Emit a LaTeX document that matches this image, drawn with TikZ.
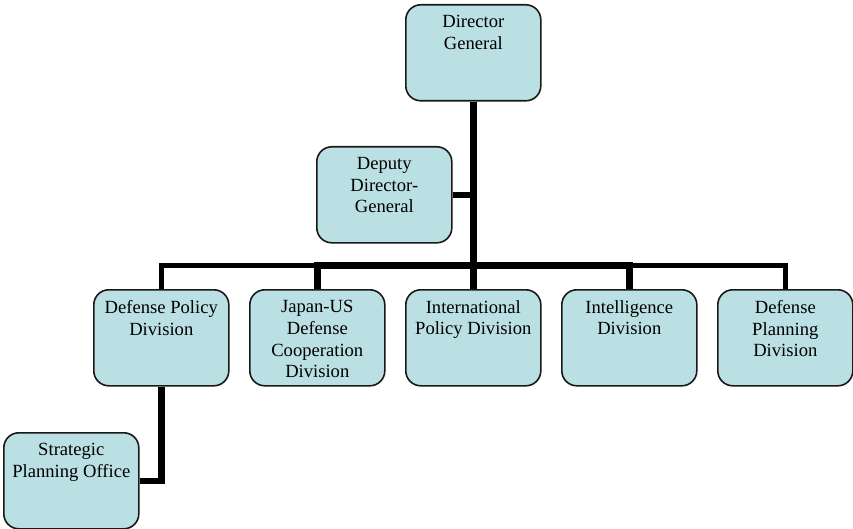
\documentclass[tikz,border=0pt]{standalone}
\usepackage{fontspec}
\setmainfont{Liberation Serif}
\definecolor{boxfill}{RGB}{187,224,227}
\definecolor{boxline}{RGB}{25,25,25}

% text block of a unit box: fixed size, lines set from the top
\newcommand{\unittext}[1]{%
  \parbox[c][96pt][t]{135pt}{\centering\fontsize{18.6}{21.7}\selectfont
    \vspace*{10.5pt}#1}}

\tikzset{
  unit/.style={draw=boxline, line width=1.6pt, fill=boxfill,
    rounded corners=15pt, inner sep=0pt, anchor=north west},
  trunk/.style={line width=6.5pt, line join=miter},
  branch/.style={line width=5pt, line join=miter},
}

\begin{document}
\begin{tikzpicture}[x=1pt, y=-1pt]
  \useasboundingbox (0,0) rectangle (853,529);

  % units
  \node[unit] (dg)  at (405,4)   {\unittext{Director\\General}};
  \node[unit] (dep) at (316,146) {\unittext{Deputy\\Director-\\General}};
  \node[unit] (dpd) at (93,289)  {\unittext{Defense Policy\\Division}};
  \node[unit] (jus) at (249,289) {\unittext{Japan-US\\Defense\\Cooperation\\Division}};
  \node[unit] (ipd) at (405,289) {\unittext{International\\Policy Division}};
  \node[unit] (int) at (561,289) {\unittext{Intelligence\\Division}};
  \node[unit] (dpl) at (717,289) {\unittext{Defense\\Planning\\Division}};
  \node[unit] (spo) at (3,432)   {\unittext{Strategic\\Planning Office}};

  % junction of the division bar with the trunk
  \coordinate (busy) at (0,265.5);
  \coordinate (bus) at (dg.south |- busy);

  % connectors
  \draw[branch] (bus) -| (dpd.north);
  \draw[branch] (bus) -| (dpl.north);
  \draw[trunk] (bus) -| (jus.north);
  \draw[trunk] (bus) -| (int.north);
  \draw[trunk] (bus) -- (ipd.north);
  \draw[trunk] (dg.south) -- (bus);
  \draw[trunk] (dep.east) -- (dep.east -| bus);
  \draw[trunk] (dpd.south) |- (spo.east);
\end{tikzpicture}
\end{document}
